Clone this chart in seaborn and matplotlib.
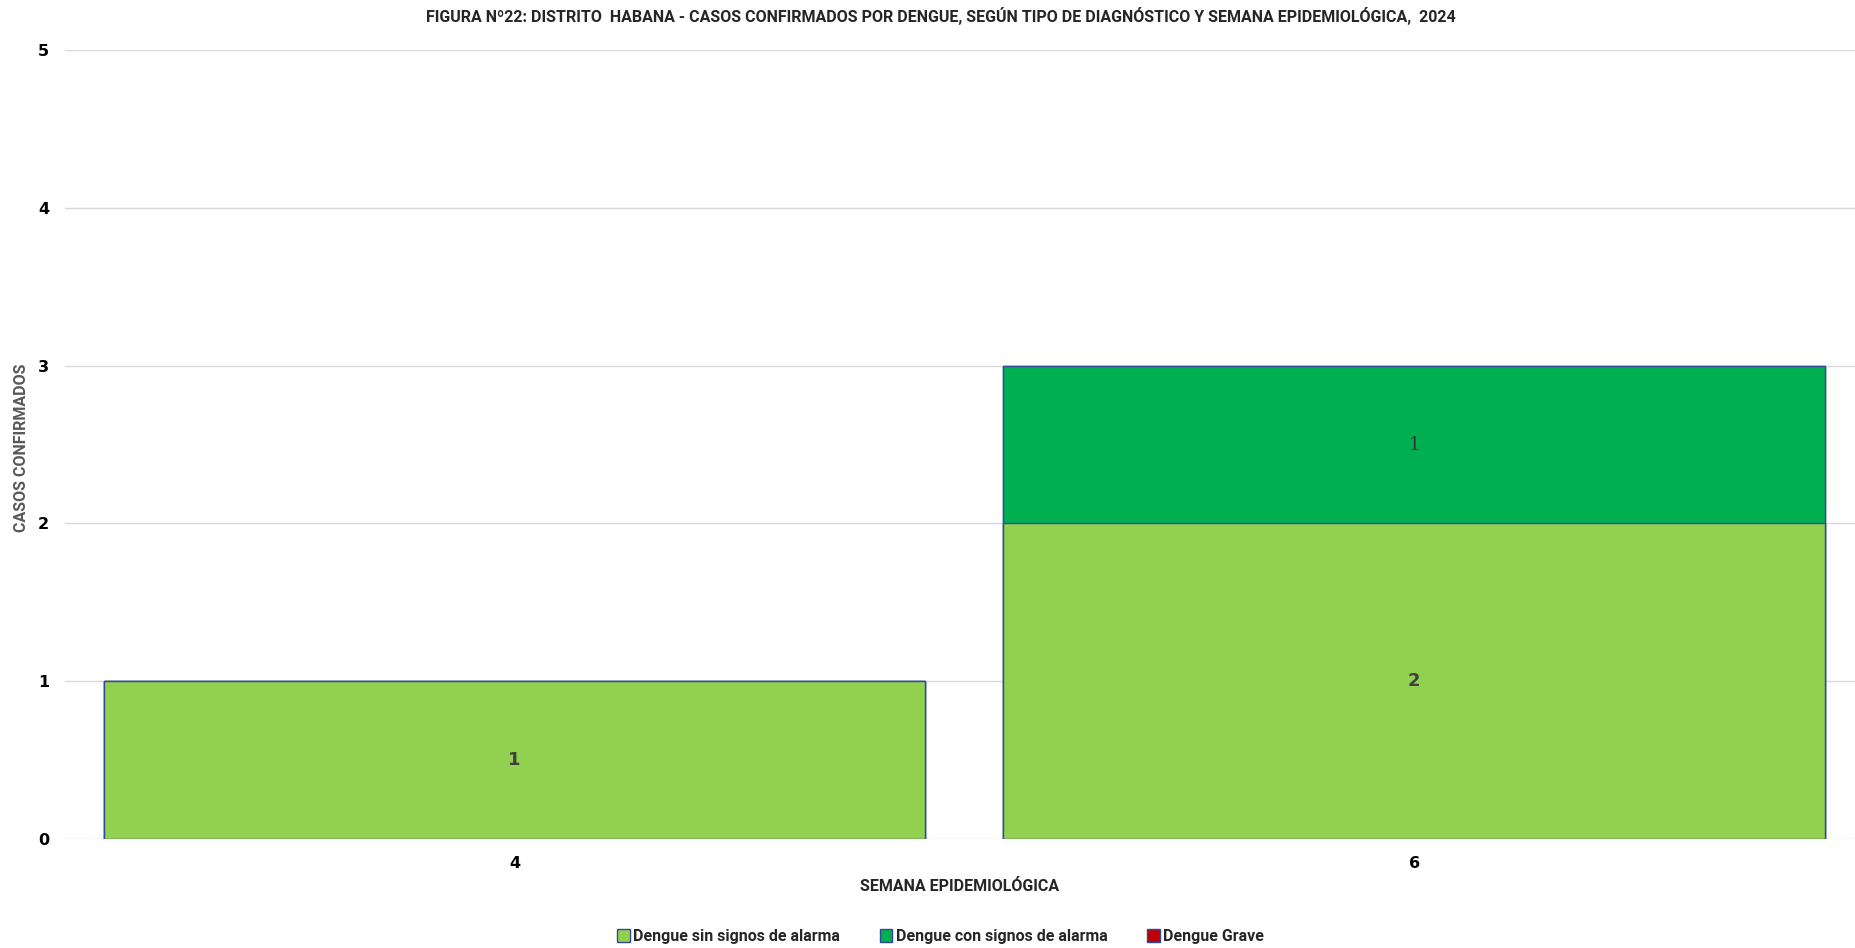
import numpy as np
import pandas as pd
import seaborn as sns
from matplotlib import pyplot as plt
from matplotlib.patches import Patch

sns.set_theme(style="white")
plt.rcParams['font.family'] = ['DejaVu Sans']

# data
semanas = ['4', '6']
sin_signos = [1, 2]
con_signos = [0, 1]
grave = [0, 0]

series_names = ['Dengue sin signos de alarma', 'Dengue con signos de alarma', 'Dengue Grave']
colores = ['#92D050', '#00B050', '#C00000']
borde = '#2F4A9A'
narrow = ['Roboto', 'DejaVu Sans']

df = pd.DataFrame({'semana': semanas, 'sin': sin_signos, 'con': con_signos, 'grave': grave})
df['tope_con'] = df['sin'] + df['con']
df['tope_grave'] = df['tope_con'] + df['grave']

fig = plt.figure(figsize=(18.55, 9.48), dpi=100)
ax = fig.add_axes([0.0348, 0.115, 0.9652, 0.832])

# stacked bars: draw cumulative totals from top to bottom
sns.barplot(data=df, x='semana', y='tope_grave', color=colores[2], width=0.913,
            edgecolor=borde, linewidth=1, saturation=1, ax=ax, zorder=2)
sns.barplot(data=df, x='semana', y='tope_con', color=colores[1], width=0.913,
            edgecolor=borde, linewidth=1, saturation=1, ax=ax, zorder=3)
sns.barplot(data=df, x='semana', y='sin', color=colores[0], width=0.913,
            edgecolor=borde, linewidth=1, saturation=1, ax=ax, zorder=4)

# data labels
for i in range(len(semanas)):
    if df['sin'][i] > 0:
        ax.text(i, df['sin'][i] / 2, str(df['sin'][i]), ha='center', va='center',
                fontsize=13, fontweight='bold', color='#404040', zorder=5)
    if df['con'][i] > 0:
        ax.text(i, df['sin'][i] + df['con'][i] / 2, str(df['con'][i]), ha='center', va='center',
                fontsize=13, color='#333333', family='DejaVu Serif', zorder=5)

ax.set_ylim(0, 5)
ax.set_xlim(-0.5, 1.49)
ax.set_yticks(range(0, 6))
ax.yaxis.grid(True, color='#D9D9D9', linewidth=1)
ax.set_axisbelow(True)
for s in ax.spines.values():
    s.set_visible(False)
ax.tick_params(axis='both', length=0, labelsize=11.5, pad=12)
for lab in ax.get_yticklabels() + ax.get_xticklabels():
    lab.set_fontweight('bold')
    lab.set_color('#000000')
ax.tick_params(axis='y', pad=11)

ax.set_xlabel('SEMANA EPIDEMIOLÓGICA', fontsize=11.5, fontweight='bold', family=narrow, labelpad=6)
ax.set_ylabel('')
fig.text(0.0115, 0.528, 'CASOS CONFIRMADOS', rotation=90, ha='center', va='center',
         fontsize=11.5, fontweight='bold', family=narrow, color='#595959')

fig.suptitle('FIGURA Nº22: DISTRITO  HABANA - CASOS CONFIRMADOS POR DENGUE, SEGÚN TIPO DE DIAGNÓSTICO Y SEMANA EPIDEMIOLÓGICA,  2024',
             x=0.507, y=0.993, fontsize=11.5, fontweight='bold', family=narrow)

handles = [Patch(facecolor=c, edgecolor=borde, linewidth=1) for c in colores]
fig.legend(handles, series_names, loc='center', bbox_to_anchor=(0.507, 0.012), ncol=3,
           frameon=False, handlelength=0.8, handleheight=0.8, handletextpad=0.2,
           columnspacing=2.5, prop={'family': narrow, 'weight': 'bold', 'size': 11.5})

plt.savefig('out.png', dpi=100)
